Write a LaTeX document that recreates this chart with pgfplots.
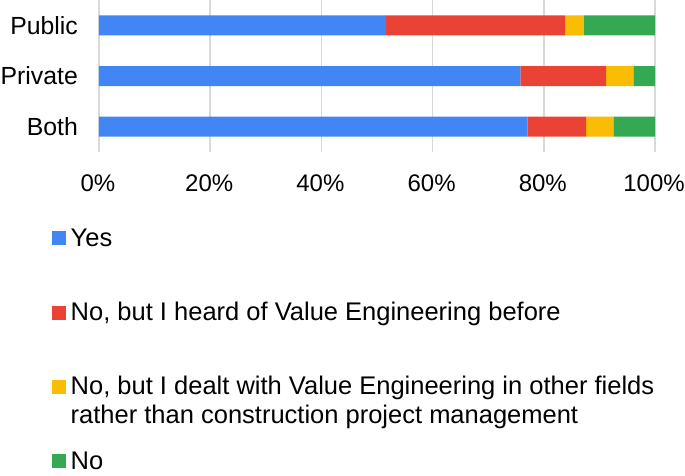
\documentclass[border=0pt]{standalone}
\usepackage{pgfplots}
\pgfplotsset{compat=1.18}
\usepackage{fontspec}
\setmainfont{Liberation Sans}
\definecolor{cblue}{HTML}{4285F4}
\definecolor{cred}{HTML}{EA4335}
\definecolor{cyellow}{HTML}{FBBC04}
\definecolor{cgreen}{HTML}{34A853}
\definecolor{gridgray}{HTML}{D9D9D9}
\begin{document}
\begin{tikzpicture}
\begin{axis}[name=ax, scale only axis, width=556pt, height=152pt,
  xbar stacked, bar width=20pt,
  xmin=0, xmax=100, ymin=-0.5, ymax=2.5,
  ytick={0,1,2}, yticklabels={Both,Private,Public},
  xtick={0,20,40,60,80,100}, xticklabels={0\%,20\%,40\%,60\%,80\%,100\%},
  axis line style={draw=none}, major tick length=0pt,
  xmajorgrids, ymajorgrids=false, grid style={draw=gridgray, line width=1.5pt},
  xticklabel style={font=\fontsize{24}{28}\selectfont, anchor=center, yshift=-31pt, xshift=-1pt},
  yticklabel style={font=\fontsize{24.8}{29}\selectfont, anchor=east, inner sep=0pt, xshift=-21pt},
  legend image code/.code={\fill[#1] (0pt,1pt) rectangle (14pt,15pt);},
  legend cell align=left,
  legend style={at={(axis description cs:0,0)}, anchor=north west,
    xshift=-47.5pt, yshift=-71pt, draw=none, fill=none, inner sep=0pt,
    row sep=51.3pt, column sep=5pt, font=\fontsize{25.5}{29}\selectfont,
    nodes={inner sep=0pt, text height=23pt, text depth=0pt, anchor=base west}},
]
\addplot[fill=cblue, draw=none] coordinates {(77.1,0) (75.8,1) (51.6,2)};
\addlegendentry{Yes}
\addplot[fill=cred, draw=none] coordinates {(10.5,0) (15.4,1) (32.3,2)};
\addlegendentry{No, but I heard of Value Engineering before}
\addplot[fill=cyellow, draw=none] coordinates {(4.9,0) (4.9,1) (3.3,2)};
\addlegendentry{\vtop{\hbox{No, but I dealt with Value Engineering in other fields}\hbox{rather than construction project management}}}
\addplot[fill=cgreen, draw=none] coordinates {(7.5,0) (3.9,1) (12.8,2)};
\addlegendentry{No}
\end{axis}
\pgfresetboundingbox
\path ([xshift=-99pt]ax.north west) coordinate (tl);
\path (tl) rectangle ++(685pt,-475pt);
\end{tikzpicture}
\end{document}
